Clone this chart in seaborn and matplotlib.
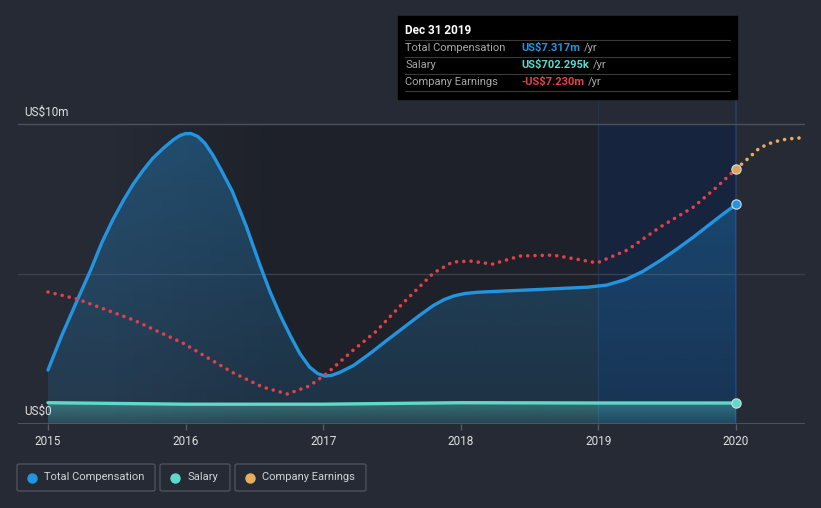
import numpy as np
import matplotlib
matplotlib.use("Agg")
import matplotlib.pyplot as plt
import seaborn as sns
from matplotlib.colors import to_rgb
from matplotlib.patches import Rectangle, FancyBboxPatch

# ---------------- data (US$ m) ----------------
comp_years = [2015.00, 2015.10, 2015.21, 2015.31, 2015.39, 2015.47, 2015.55, 2015.62,
              2015.69, 2015.76, 2015.84, 2015.91, 2015.96, 2016.00, 2016.04, 2016.09,
              2016.14, 2016.20, 2016.26, 2016.34, 2016.44, 2016.54, 2016.61, 2016.69,
              2016.76, 2016.83, 2016.90, 2016.96, 2017.01, 2017.06, 2017.12, 2017.22,
              2017.34, 2017.46, 2017.58, 2017.70, 2017.80, 2017.88, 2017.95, 2018.03,
              2018.12, 2018.25, 2018.55, 2018.92, 2019.06, 2019.20, 2019.32, 2019.45,
              2019.57, 2019.69, 2019.81, 2019.90, 2020.00]
comp_values = [1.80, 2.95, 4.10, 5.13, 6.03, 6.80, 7.47, 8.00,
               8.45, 8.85, 9.20, 9.47, 9.62, 9.68, 9.68, 9.58,
               9.36, 8.95, 8.45, 7.75, 6.60, 5.30, 4.45, 3.60,
               2.95, 2.35, 1.90, 1.68, 1.60, 1.62, 1.72, 1.95,
               2.35, 2.78, 3.20, 3.62, 3.95, 4.15, 4.27, 4.35,
               4.39, 4.42, 4.48, 4.56, 4.63, 4.82, 5.08, 5.45,
               5.83, 6.23, 6.66, 6.98, 7.317]

salary_years = [2015, 2016, 2017, 2018, 2019, 2020]
salary_values = [0.71, 0.66, 0.66, 0.71, 0.70, 0.70]

earn_years = [2015.00, 2015.21, 2015.62, 2015.98, 2016.34, 2016.56, 2016.74, 2016.90,
              2017.03, 2017.22, 2017.38, 2017.58, 2017.80, 2017.94, 2018.07, 2018.23,
              2018.43, 2018.67, 2018.87, 2018.99, 2019.21, 2019.45, 2019.69, 2019.86,
              2020.00]
earn_values = [4.40, 4.17, 3.47, 2.70, 1.72, 1.23, 1.00, 1.27,
               1.70, 2.47, 3.07, 4.03, 5.03, 5.40, 5.43, 5.33,
               5.60, 5.63, 5.47, 5.37, 5.80, 6.57, 7.23, 7.90,
               8.50]

fcst_years = [2020.00, 2020.10, 2020.17, 2020.27, 2020.37, 2020.50]
fcst_values = [8.50, 8.90, 9.20, 9.40, 9.50, 9.55]

year_ticks = [2015, 2016, 2017, 2018, 2019, 2020]
y_tick_values = [0, 10]
y_tick_labels = ["US$0", "US$10m"]

series_names = ["Total Compensation", "Salary", "Company Earnings"]
tooltip_title = "Dec 31 2019"
tooltip_values = ["US$7.317m", "US$702.295k", "-US$7.230m"]

# ---------------- style ----------------
sns.set_style("dark")
plt.rcParams["font.family"] = ["Roboto", "DejaVu Sans"]

BG = "#252a35"
DARK = "#1e2129"
BLUE = "#2394df"
TEAL = "#5fd9c9"
RED = "#e5404a"
ORANGE = "#e8ae5c"
TXT = "#e0e0e0"

W, H = 821, 508
fig = plt.figure(figsize=(W / 100, H / 100), dpi=100, facecolor=BG)


def fx(x):
    return x / W


def fy(y):
    return 1 - y / H


ax = fig.add_axes([fx(18), fy(424), (805 - 18) / W, (424 - 100) / H])
ax.set_facecolor(BG)
for s in ax.spines.values():
    s.set_visible(False)
ax.grid(False)
XLIM = (2014.782, 2020.501)
YLIM = (0, 10.8)

# darker past region (horizontal ramp) and highlighted last period
ramp = np.zeros((1, 256, 4))
ramp[..., :3] = to_rgb(DARK)
xs = np.linspace(0, 1, 256)
ramp[0, :, 3] = np.clip((xs - 0.12) / 0.3, 0, 1)
ax.imshow(ramp, extent=[2015, 2019, 0, 10], aspect="auto", zorder=0.2)
ax.add_patch(Rectangle((2019, 0), 1, 10, color="#16243d", lw=0, zorder=0.3))
ax.axvline(2019, color="#1f3352", lw=1, zorder=0.4)
ax.axvline(2020, color="#233e66", lw=1.2, zorder=0.4)

# grid lines
ax.axhline(10, color="#4b505b", lw=1, zorder=0.5)
ax.axhline(5, color="#3b404b", lw=1, zorder=0.5)
ax.axhline(0, color="#555b66", lw=1.2, zorder=5)


def gradient_fill(xv, yv, color, a_top, a_bot, ytop, z):
    poly = ax.fill_between(xv, 0, yv, color="none", lw=0)
    g = np.zeros((256, 1, 4))
    g[..., :3] = to_rgb(color)
    g[:, 0, 3] = np.linspace(a_top, a_bot, 256)
    im = ax.imshow(g, extent=[min(xv), max(xv), 0, ytop], origin="upper",
                   aspect="auto", zorder=z)
    im.set_clip_path(poly.get_paths()[0], transform=ax.transData)


gradient_fill(comp_years, comp_values, BLUE, 0.36, 0.14, 10, 1)
gradient_fill(salary_years, salary_values, TEAL, 0.38, 0.12, 0.75, 2)

# lines
sns.lineplot(x=comp_years, y=comp_values, color=BLUE, lw=2.4, ax=ax, zorder=4)
sns.lineplot(x=salary_years, y=salary_values, color=TEAL, lw=2.4, ax=ax, zorder=4)
sns.lineplot(x=earn_years, y=earn_values, color=RED, lw=2.6, ax=ax, zorder=4,
             linestyle=(0, (0.01, 2.0)), dash_capstyle="round")
sns.lineplot(x=fcst_years, y=fcst_values, color=ORANGE, lw=2.6, ax=ax, zorder=4,
             linestyle=(0, (0.01, 2.0)), dash_capstyle="round")

# end markers
sns.scatterplot(x=[comp_years[-1]], y=[comp_values[-1]], color=BLUE, s=45,
                edgecolor="#dddddd", linewidth=0.8, ax=ax, zorder=6)
sns.scatterplot(x=[salary_years[-1]], y=[salary_values[-1]], color=TEAL, s=45,
                edgecolor="#dddddd", linewidth=0.8, ax=ax, zorder=6)
sns.scatterplot(x=[earn_years[-1]], y=[earn_values[-1]], color="#d9a45e", s=45,
                edgecolor="#dddddd", linewidth=0.8, ax=ax, zorder=6)

ax.set_xlim(*XLIM)
ax.set_ylim(*YLIM)
ax.set_xlabel("")
ax.set_ylabel("")
ax.set_yticks([])
ax.set_xticks(year_ticks)
ax.set_xticklabels([str(y) for y in year_ticks])
ax.tick_params(axis="x", colors="#555b66", length=4, width=1, pad=4,
               labelcolor=TXT, labelsize=8.5, bottom=True)

# y labels
fig.text(fx(24), fy(112), y_tick_labels[1], color=TXT, fontsize=8.5, va="center", ha="left")
fig.text(fx(24), fy(411), y_tick_labels[0], color=TXT, fontsize=8.5, va="center", ha="left")

# tooltip
fig.patches.append(Rectangle((fx(398), fy(99)), (737 - 398) / W, (99 - 16) / H,
                             transform=fig.transFigure, color="black", zorder=10))
fig.text(fx(405), fy(31), tooltip_title, color="white", fontsize=8.5,
         fontweight="bold", va="center", ha="left", zorder=11)
row_y = [48, 65, 82]
val_colors = [BLUE, TEAL, RED]
for yy in [40, 57, 74, 91]:
    fig.add_artist(plt.Line2D([fx(405), fx(730)], [fy(yy), fy(yy)], color="#3a3a3a",
                              lw=0.8, transform=fig.transFigure, zorder=11))
for name, val, col, yy in zip(series_names, tooltip_values, val_colors, row_y):
    fig.text(fx(405), fy(yy), name, color="#a8a8a8", fontsize=8, va="center",
             ha="left", zorder=11)
    t = fig.text(fx(521), fy(yy), val, color=col, fontsize=8, fontweight="bold",
                 va="center", ha="left", zorder=11)
    fig.canvas.draw()
    bb = t.get_window_extent()
    fig.text((bb.x1 + 4) / W, fy(yy), "/yr", color="#a8a8a8", fontsize=8,
             va="center", ha="left", zorder=11)

# legend
leg_boxes = [(17, 155), (160, 230), (235, 366)]
leg_colors = [BLUE, TEAL, ORANGE]
for (x0, x1), name, col in zip(leg_boxes, series_names, leg_colors):
    fig.patches.append(FancyBboxPatch((fx(x0), fy(491)), (x1 - x0) / W, 27 / H,
                                      boxstyle="round,pad=0,rounding_size=0.003",
                                      transform=fig.transFigure, facecolor=BG,
                                      edgecolor="#4d525d", lw=1))
    fig.add_artist(plt.Line2D([fx(x0 + 15)], [fy(477.5)], marker="o", markersize=6.5,
                              color=col, lw=0, transform=fig.transFigure))
    fig.text(fx(x0 + 27), fy(477.5), name, color="#cfd2d6", fontsize=8,
             va="center", ha="left")

fig.savefig("out.png", dpi=100, facecolor=BG)
